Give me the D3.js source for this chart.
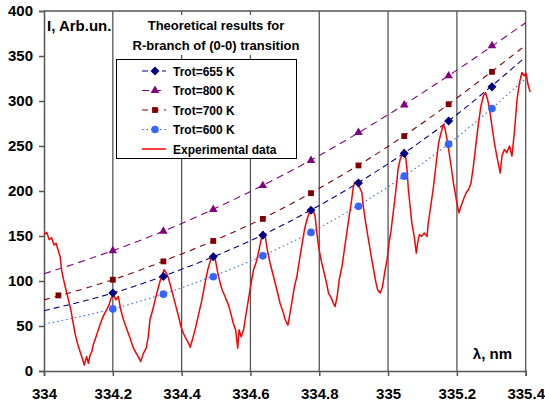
<!DOCTYPE html>
<html>
<head>
<meta charset="utf-8">
<script src="https://cdn.jsdelivr.net/npm/d3@7"></script>
<style>
  body { margin: 0; background: #fff; }
  svg text { font-family: Arial, "Liberation Sans", sans-serif; font-weight: bold; fill: #000; }
</style>
</head>
<body>
<svg id="chart"></svg>
<script>
// x axis ticks (nm) and y ticks
const xTickLabels = ['334', '334.2', '334.4', '334.6', '334.8', '335', '335.2', '335.4']
const yTicks = [0, 50, 100, 150, 200, 250, 300, 350, 400]

// peak positions where theoretical intensities were marked
const peakX = [334.2, 334.347, 334.492, 334.636, 334.776, 334.914, 335.047, 335.176, 335.302]
const t655 = [86.6, 105, 127, 150.8, 178.6, 209, 241.8, 277.8, 315.7]
const t800 = [133.7, 155.2, 179.4, 206, 234, 265, 295.6, 327.9, 361.4]
const t700X = [334.042].concat(peakX)
const t700 = [84, 101.4, 121.8, 144.5, 169, 197.6, 228.4, 261, 296.4, 332.4]
const t600 = [69, 85.4, 104.7, 128, 154, 183, 216.5, 252, 291.6]

// dashed trend curves, read at every x tick
const fit655 = [67, 86.6, 113, 144.8, 183.9, 230.2, 285, 349]
const fit800 = [108, 133.7, 164, 199.4, 239.4, 284.8, 334.3, 387]
const fit700 = [79, 101.4, 130.1, 162.9, 203, 249.5, 303.3, 362]
const fit600 = [52, 69, 92.5, 122.2, 159, 204.7, 259.5, 325]

// experimental spectrum [nm, I]
const expData = [
  [334.000, 151.5], [334.008, 154], [334.015, 146], [334.022, 148], [334.029, 140], [334.035, 142],
  [334.042, 133], [334.047, 127], [334.051, 112.5], [334.056, 103], [334.064, 90], [334.071, 79],
  [334.078, 68], [334.083, 57], [334.090, 42], [334.097, 31], [334.105, 21.5], [334.113, 12],
  [334.117, 6.7], [334.124, 16], [334.129, 8.6], [334.134, 17.8], [334.139, 21.5], [334.143, 29],
  [334.148, 34.5], [334.153, 40], [334.161, 49.4], [334.168, 57], [334.174, 62.4], [334.182, 68],
  [334.189, 73.5], [334.195, 81], [334.202, 84.7], [334.209, 79], [334.216, 82.8], [334.223, 68],
  [334.231, 57], [334.238, 49.4], [334.245, 42], [334.252, 34.5], [334.260, 25.3], [334.268, 19.7],
  [334.274, 16], [334.281, 10.4], [334.289, 19.7], [334.297, 25.3], [334.303, 38], [334.308, 57],
  [334.316, 68], [334.323, 79], [334.329, 88], [334.337, 99.5], [334.344, 107], [334.349, 112.5],
  [334.355, 109], [334.361, 104], [334.371, 90], [334.381, 75.4], [334.391, 60.5], [334.398, 49.4],
  [334.405, 42], [334.412, 36.4], [334.420, 31], [334.425, 26.4], [334.431, 34.5], [334.439, 45.7],
  [334.449, 62.4], [334.459, 79], [334.468, 97.7], [334.476, 112.5], [334.483, 121.8], [334.488, 127.4],
  [334.494, 129.2], [334.499, 121.8], [334.505, 109], [334.512, 97.7], [334.518, 90], [334.526, 82.8],
  [334.536, 73.5], [334.544, 62.4], [334.550, 53], [334.557, 45.7], [334.563, 25.3], [334.567, 45.7],
  [334.573, 38], [334.580, 45.7], [334.586, 60.5], [334.594, 79], [334.602, 97.7], [334.609, 112.5],
  [334.616, 120], [334.623, 131], [334.631, 146], [334.637, 155], [334.643, 149.6], [334.649, 134.8],
  [334.657, 120], [334.667, 105], [334.677, 90], [334.686, 75.4], [334.696, 64.3], [334.701, 57],
  [334.706, 53], [334.709, 51], [334.715, 64.3], [334.720, 75.4], [334.728, 94], [334.735, 105],
  [334.741, 120], [334.749, 138.5], [334.757, 157], [334.764, 168], [334.771, 175.7], [334.776, 179.4],
  [334.783, 177.5], [334.788, 172], [334.793, 153.4], [334.798, 138.5], [334.805, 123.7], [334.812, 112.5],
  [334.819, 101.4], [334.827, 86.6], [334.835, 81], [334.841, 75.4], [334.846, 71.6], [334.852, 82.8],
  [334.858, 101.4], [334.866, 116], [334.873, 134.8], [334.880, 153.4], [334.887, 172], [334.893, 186.9],
  [334.898, 201.7], [334.902, 209], [334.909, 211], [334.916, 205], [334.924, 198], [334.928, 183],
  [334.935, 164.6], [334.943, 146], [334.951, 127.4], [334.958, 112.5], [334.965, 97.7], [334.970, 90],
  [334.977, 86.6], [334.984, 94], [334.990, 109], [334.997, 123.7], [335.003, 142.3], [335.009, 157],
  [335.016, 179.4], [335.023, 201.7], [335.029, 224], [335.035, 235], [335.042, 240.7], [335.046, 246],
  [335.050, 242.6], [335.055, 224], [335.059, 201.7], [335.065, 179.4], [335.069, 164.6], [335.076, 149.6],
  [335.082, 131], [335.086, 142.3], [335.091, 151.5], [335.098, 149.6], [335.105, 153.4], [335.113, 149.6],
  [335.117, 164.6], [335.124, 183], [335.132, 205], [335.140, 231.4], [335.147, 253.7], [335.154, 264.8],
  [335.161, 274], [335.166, 268.5], [335.173, 253.7], [335.179, 238.8], [335.186, 220], [335.190, 209],
  [335.195, 198], [335.200, 186.9], [335.206, 175.7], [335.212, 183], [335.219, 190.5], [335.227, 198],
  [335.234, 201.7], [335.241, 209], [335.248, 227.6], [335.256, 253.7], [335.263, 276], [335.270, 294.5],
  [335.277, 305.6], [335.283, 309.4], [335.289, 302], [335.295, 290.8], [335.302, 272.2], [335.309, 253.7],
  [335.316, 238.8], [335.322, 227.6], [335.326, 220], [335.331, 238.8], [335.338, 246.2], [335.345, 242.5],
  [335.353, 250], [335.360, 238.8], [335.367, 264.8], [335.375, 302], [335.382, 320.5], [335.389, 331.7],
  [335.396, 328], [335.401, 331], [335.407, 318], [335.413, 310]
]

const series = [
  { name: 'Trot=655 K', xs: peakX, ys: t655, fit: fit655, color: '#000080', dash: '6,4', sym: d3.symbolDiamond2, size: 52 },
  { name: 'Trot=800 K', xs: peakX, ys: t800, fit: fit800, color: '#800080', dash: '7,5', sym: d3.symbolTriangle, size: 32 },
  { name: 'Trot=700 K', xs: t700X, ys: t700, fit: fit700, color: '#800000', dash: '6,5', sym: d3.symbolSquare, size: 34 },
  { name: 'Trot=600 K', xs: peakX, ys: t600, fit: fit600, color: '#3366ff', dash: '1.5,3', sym: d3.symbolCircle, size: 46 },
]

const width = 545, height = 403

const svg = d3.select('#chart')
    .attr('width', width)
    .attr('height', height)

const xTicks = xTickLabels.map(Number)

const x = d3.scaleLinear()
    .domain([334, 335.4])
    .range([44, 525.7])

const y = d3.scaleLinear()
    .domain([0, 400])
    .range([371, 11])

// grid + frame
svg.append('g')
    .selectAll('line')
    .data(xTicks.slice(1))
    .join('line')
    .attr('x1', d => x(d)).attr('x2', d => x(d))
    .attr('y1', y(0)).attr('y2', y(400))
    .attr('stroke', '#555')
    .attr('stroke-width', 1.3)

svg.append('line')
    .attr('x1', x(334)).attr('x2', x(335.4))
    .attr('y1', y(400)).attr('y2', y(400))
    .attr('stroke', '#555')
    .attr('stroke-width', 1.3)

// axes
const yAxis = svg.append('g')
    .attr('transform', `translate(${x(334)},0)`)
    .call(d3.axisLeft(y).tickValues(yTicks).tickSize(5).tickPadding(6))
const xAxis = svg.append('g')
    .attr('transform', `translate(0,${y(0)})`)
    .call(d3.axisBottom(x).tickValues(xTicks).tickSize(5).tickPadding(12).tickFormat((d, i) => xTickLabels[i]))

for (const ax of [xAxis, yAxis]) {
    ax.selectAll('path, line').attr('stroke', '#555').attr('stroke-width', 1.5)
    ax.selectAll('text').style('font-size', '15px').attr('fill', '#000')
    ax.attr('font-family', null).attr('font-size', null)
}

// trend curves
const fitLine = d3.line()
    .x((d, i) => x(xTicks[i]))
    .y(d => y(d))
    .curve(d3.curveNatural)

svg.append('g')
    .selectAll('path')
    .data(series)
    .join('path')
    .attr('d', d => fitLine(d.fit))
    .attr('fill', 'none')
    .attr('stroke', d => d.color)
    .attr('stroke-width', 1.1)
    .attr('stroke-dasharray', d => d.dash)

// experimental data
svg.append('path')
    .attr('d', d3.line().x(d => x(d[0])).y(d => y(d[1]))(expData))
    .attr('fill', 'none')
    .attr('stroke', '#ff0000')
    .attr('stroke-width', 1.5)
    .attr('stroke-linejoin', 'round')

// markers
series.forEach(s => {
    svg.append('g')
        .selectAll('path')
        .data(s.ys)
        .join('path')
        .attr('transform', (d, i) => `translate(${x(s.xs[i])},${y(d)})`)
        .attr('d', d3.symbol(s.sym, s.size))
        .attr('fill', s.color)
})

// axis titles
svg.append('text')
    .attr('x', 47).attr('y', 31)
    .style('font-size', '15px')
    .text('I, Arb.un.')

svg.append('text')
    .attr('x', 512).attr('y', 359)
    .attr('text-anchor', 'end')
    .style('font-size', '15px')
    .text('λ, nm')

// legend title
svg.append('rect')
    .attr('x', 126).attr('y', 15)
    .attr('width', 181).attr('height', 40)
    .attr('fill', '#fff')
svg.append('text')
    .attr('x', 216).attr('y', 30)
    .attr('text-anchor', 'middle')
    .style('font-size', '13px')
    .text('Theoretical results for')
svg.append('text')
    .attr('x', 216).attr('y', 50)
    .attr('text-anchor', 'middle')
    .style('font-size', '13px')
    .text('R-branch of (0-0) transition')

// legend
const legend = svg.append('g')
legend.append('rect')
    .attr('x', 116.5).attr('y', 59.5)
    .attr('width', 180).attr('height', 99)
    .attr('fill', '#fff')
    .attr('stroke', '#000')
    .attr('stroke-width', 1)

const legendItems = series.map(s => s.name).concat(['Experimental data'])
const ly = d3.scalePoint().domain(legendItems).range([71, 149])

series.forEach(s => {
    const g = legend.append('g').attr('transform', `translate(0,${ly(s.name)})`)
    g.append('line')
        .attr('x1', 142).attr('x2', 166)
        .attr('stroke', s.color)
        .attr('stroke-width', 1.1)
        .attr('stroke-dasharray', s.dash)
    g.append('path')
        .attr('transform', 'translate(155,0)')
        .attr('d', d3.symbol(s.sym, s.size))
        .attr('fill', s.color)
    g.append('text')
        .attr('x', 173).attr('y', 4.5)
        .style('font-size', '12px')
        .text(s.name)
})

const eg = legend.append('g').attr('transform', `translate(0,${ly('Experimental data')})`)
eg.append('line')
    .attr('x1', 142).attr('x2', 166)
    .attr('stroke', '#ff0000')
    .attr('stroke-width', 1.5)
eg.append('text')
    .attr('x', 173).attr('y', 4.5)
    .style('font-size', '12px')
    .text('Experimental data')
</script>
</body>
</html>
